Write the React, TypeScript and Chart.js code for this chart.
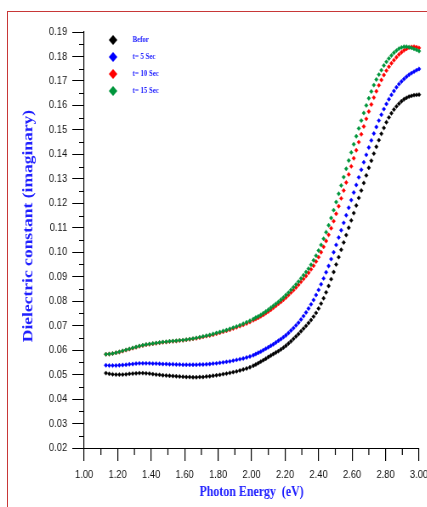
import React, { useEffect, useRef } from "react";
import { Chart, registerables } from "chart.js";

Chart.register(...registerables);

// Photon energy (eV) at which each point was read
const energy = [
  1.13, 1.15, 1.17, 1.19, 1.21, 1.23, 1.25, 1.27, 1.29, 1.31, 1.33, 1.35, 1.37, 1.39, 1.41, 1.43, 1.45, 1.47, 1.49, 1.51, 1.53, 1.55,
  1.57, 1.59, 1.61, 1.63, 1.65, 1.67, 1.69, 1.71, 1.73, 1.75, 1.77, 1.79, 1.81, 1.83, 1.85, 1.87, 1.89, 1.91, 1.93, 1.95, 1.97, 1.99,
  2.01, 2.025, 2.04, 2.055, 2.07, 2.085, 2.1, 2.115, 2.13, 2.145, 2.16, 2.175, 2.19, 2.205, 2.22, 2.235, 2.25, 2.265, 2.28, 2.295,
  2.31, 2.325, 2.34, 2.355, 2.37, 2.385, 2.4, 2.415, 2.43, 2.445, 2.46, 2.475, 2.49, 2.505, 2.52, 2.535, 2.55, 2.565, 2.58, 2.595,
  2.61, 2.625, 2.64, 2.655, 2.67, 2.685, 2.7, 2.715, 2.73, 2.745, 2.76, 2.775, 2.79, 2.805, 2.82, 2.835, 2.85, 2.865, 2.88, 2.895,
  2.91, 2.925, 2.94, 2.955, 2.97, 2.985, 3.0,
];

const befor = [
  0.0506, 0.0503, 0.0501, 0.05, 0.05, 0.05, 0.0501, 0.0503, 0.0504, 0.0505, 0.0506, 0.0506, 0.0505, 0.0504, 0.0502, 0.05, 0.0499,
  0.0497, 0.0496, 0.0495, 0.0494, 0.0493, 0.0492, 0.0491, 0.049, 0.049, 0.0489, 0.0489, 0.049, 0.049, 0.0492, 0.0493, 0.0495, 0.0497,
  0.0499, 0.0502, 0.0504, 0.0507, 0.051, 0.0513, 0.0517, 0.0521, 0.0525, 0.053,
  0.0536, 0.0541, 0.0547, 0.0553, 0.0559, 0.0565, 0.0572, 0.0578, 0.0584, 0.059, 0.0596, 0.0603, 0.061, 0.0618, 0.0627, 0.0636,
  0.0646, 0.0656, 0.0666, 0.0677, 0.0688, 0.0699, 0.0711, 0.0723, 0.0737, 0.0752, 0.077, 0.079, 0.0812, 0.0836, 0.0862, 0.089,
  0.0919, 0.095, 0.098, 0.101, 0.104, 0.107, 0.11, 0.113, 0.116, 0.1191, 0.1222, 0.1252, 0.1283, 0.1314, 0.1345, 0.1374, 0.1403,
  0.1431, 0.1458, 0.1484, 0.1508, 0.1531, 0.1551, 0.1568, 0.1583, 0.1596, 0.1607, 0.1617, 0.1625, 0.1631, 0.1636, 0.1639, 0.1642,
  0.1643, 0.1644,
];

const t5 = [
  0.0538, 0.0537, 0.0537, 0.0537, 0.0538, 0.0539, 0.054, 0.0542, 0.0543, 0.0545, 0.0546, 0.0546, 0.0546, 0.0546, 0.0545, 0.0545,
  0.0544, 0.0543, 0.0543, 0.0542, 0.0542, 0.0541, 0.0541, 0.054, 0.054, 0.054, 0.054, 0.054, 0.0541, 0.0541, 0.0542, 0.0543, 0.0545,
  0.0546, 0.0548, 0.055, 0.0552, 0.0554, 0.0557, 0.056, 0.0563, 0.0566, 0.057, 0.0574,
  0.0579, 0.0584, 0.0589, 0.0594, 0.06, 0.0606, 0.0612, 0.0618, 0.0624, 0.0631, 0.0638, 0.0645, 0.0653, 0.0661, 0.067, 0.068, 0.069,
  0.0701, 0.0712, 0.0725, 0.0739, 0.0754, 0.077, 0.0787, 0.0805, 0.0825, 0.0846, 0.0869, 0.0893, 0.0918, 0.0944, 0.0972, 0.1, 0.103,
  0.106, 0.109, 0.112, 0.1151, 0.1182, 0.1213, 0.1244, 0.1275, 0.1306, 0.1337, 0.1368, 0.1398, 0.1428, 0.1457, 0.1485, 0.1512,
  0.1538, 0.1562, 0.1585, 0.1606, 0.1625, 0.1643, 0.1659, 0.1674, 0.1687, 0.1698, 0.1708, 0.1717, 0.1725, 0.1732, 0.1738, 0.1744,
  0.1749,
];

const t10 = [
  0.0583, 0.0584, 0.0586, 0.0589, 0.0592, 0.0596, 0.06, 0.0604, 0.0608, 0.0612, 0.0616, 0.0619, 0.0622, 0.0624, 0.0626, 0.0628,
  0.063, 0.0632, 0.0633, 0.0635, 0.0636, 0.0637, 0.0639, 0.064, 0.0642, 0.0644, 0.0646, 0.0648, 0.0651, 0.0654, 0.0657, 0.066, 0.0663,
  0.0667, 0.0671, 0.0675, 0.0679, 0.0683, 0.0688, 0.0693, 0.0698, 0.0703, 0.0709, 0.0715,
  0.0722, 0.0727, 0.0732, 0.0738, 0.0744, 0.0751, 0.0758, 0.0765, 0.0773, 0.0781, 0.0789, 0.0797, 0.0806, 0.0815, 0.0825, 0.0835,
  0.0845, 0.0856, 0.0867, 0.0879, 0.0891, 0.0903, 0.0916, 0.093, 0.0945, 0.0962, 0.098, 0.1, 0.1022, 0.1046, 0.1071, 0.1098, 0.1127,
  0.1157, 0.1188, 0.122, 0.1252, 0.1285, 0.1318, 0.1351, 0.1384, 0.1417, 0.145, 0.1482, 0.1514, 0.1545, 0.1575, 0.1604, 0.1632,
  0.1658, 0.1682, 0.1704, 0.1724, 0.1742, 0.1758, 0.1772, 0.1785, 0.1797, 0.1808, 0.1817, 0.1825, 0.1831, 0.1836, 0.1839, 0.184,
  0.1838, 0.1835,
];

const t15 = [
  0.0583, 0.0584, 0.0586, 0.0589, 0.0593, 0.0597, 0.0601, 0.0605, 0.0609, 0.0613, 0.0617, 0.062, 0.0623, 0.0625, 0.0627, 0.0629,
  0.0631, 0.0633, 0.0634, 0.0636, 0.0637, 0.0638, 0.064, 0.0641, 0.0643, 0.0645, 0.0647, 0.065, 0.0653, 0.0656, 0.0659, 0.0662,
  0.0666, 0.067, 0.0674, 0.0678, 0.0682, 0.0687, 0.0692, 0.0697, 0.0702, 0.0708, 0.0714, 0.072,
  0.0727, 0.0733, 0.0738, 0.0744, 0.0751, 0.0758, 0.0765, 0.0773, 0.0781, 0.0789, 0.0797, 0.0806, 0.0815, 0.0825, 0.0835, 0.0846,
  0.0857, 0.0868, 0.088, 0.0893, 0.0906, 0.0919, 0.0933, 0.0949, 0.0967, 0.0986, 0.1007, 0.103, 0.1055, 0.1082, 0.111, 0.114, 0.1172,
  0.1205, 0.1239, 0.1273, 0.1307, 0.1341, 0.1375, 0.1408, 0.1441, 0.1474, 0.1506, 0.1538, 0.1569, 0.16, 0.1629, 0.1657, 0.1683,
  0.1706, 0.1726, 0.1744, 0.1763, 0.1778, 0.1792, 0.1804, 0.1815, 0.1824, 0.1832, 0.1837, 0.184, 0.184, 0.1838, 0.1835, 0.1831,
  0.1827, 0.1822,
];

const seriesLabels = ["Befor", "t= 5 Sec", "t= 10 Sec", "t= 15 Sec"];
const seriesValues = [befor, t5, t10, t15];
const seriesColors = ["#000000", "#0000ff", "#ff0000", "#00963c"];
const seriesOrder = [3, 2, 1, 0];

const xMin = 1.0;
const xMax = 3.0;
const xStep = 0.2;
const yMin = 0.02;
const yMax = 0.19;
const yStep = 0.01;
const xTitle = "Photon Energy  (eV)";
const yTitle = "Dielectric constant (imaginary)";

const TITLE_BLUE = "#2020ff";
const SX = 0.85; // horizontal squeeze of the original picture
const CW = 520;
const CH = 507;
const AREA_LEFT = 99;
const AREA_RIGHT = 493;
const AREA_TOP = 32;
const AREA_BOTTOM = 448;

const decorPlugin = {
  id: "decor",
  afterDraw(chart: any) {
    const ctx = chart.ctx as CanvasRenderingContext2D;
    const xs = chart.scales.x;
    const ys = chart.scales.y;
    ctx.save();
    // minor ticks
    ctx.strokeStyle = "#000";
    ctx.lineWidth = 1.2;
    const xt = xs.ticks.map((t: any) => t.value);
    for (let i = 0; i < xt.length - 1; i++) {
      const px = xs.getPixelForValue((xt[i] + xt[i + 1]) / 2);
      ctx.beginPath();
      ctx.moveTo(px, xs.top);
      ctx.lineTo(px, xs.top + 7);
      ctx.stroke();
    }
    ctx.lineWidth = 1;
    const yt = ys.ticks.map((t: any) => t.value);
    for (let i = 0; i < yt.length - 1; i++) {
      const py = Math.round(ys.getPixelForValue((yt[i] + yt[i + 1]) / 2)) + 0.5;
      ctx.beginPath();
      ctx.moveTo(ys.right, py);
      ctx.lineTo(ys.right - 6, py);
      ctx.stroke();
    }

    // legend
    chart.data.datasets.forEach((ds: any, i: number) => {
      const cx = 133;
      const cy = 40 + 17 * i;
      const r = 5;
      ctx.fillStyle = ds.backgroundColor;
      ctx.beginPath();
      ctx.moveTo(cx - r, cy);
      ctx.lineTo(cx, cy - r);
      ctx.lineTo(cx + r, cy);
      ctx.lineTo(cx, cy + r);
      ctx.closePath();
      ctx.fill();
      ctx.fillStyle = TITLE_BLUE;
      ctx.font = "bold 8px 'Liberation Serif', 'Times New Roman', serif";
      ctx.textAlign = "left";
      ctx.textBaseline = "middle";
      ctx.fillText(ds.label, 156, cy);
    });

    // axis titles
    ctx.fillStyle = TITLE_BLUE;
    ctx.font = "bold 14px 'Liberation Serif', 'Times New Roman', serif";
    ctx.textAlign = "center";
    ctx.textBaseline = "alphabetic";
    ctx.fillText(xTitle, (xs.left + xs.right) / 2, 496);

    ctx.save();
    ctx.translate(38, 226);
    ctx.rotate(-Math.PI / 2);
    ctx.font = "bold 17.5px 'Liberation Serif', 'Times New Roman', serif";
    ctx.textAlign = "center";
    ctx.textBaseline = "alphabetic";
    ctx.fillText(yTitle, 0, 0);
    ctx.restore();

    ctx.restore();
  },
};

export default function App() {
  const canvasRef = useRef<HTMLCanvasElement | null>(null);

  useEffect(() => {
    if (!canvasRef.current) return;
    const tickFont = { family: "'Liberation Sans', Arial, sans-serif", size: 11 };
    const chart = new Chart(canvasRef.current, {
      type: "scatter",
      data: {
        datasets: seriesLabels.map((label, i) => ({
          label,
          data: energy.map((e, j) => ({ x: e, y: seriesValues[i][j] })),
          backgroundColor: seriesColors[i],
          borderColor: seriesColors[i],
          pointStyle: "rectRot",
          pointRadius: 2.2,
          pointBorderWidth: 0.4,
          showLine: false,
          order: seriesOrder[i],
          clip: 10,
        })),
      },
      options: {
        animation: false,
        responsive: false,
        devicePixelRatio: 1,
        events: [],
        layout: { padding: { top: AREA_TOP, right: CW - AREA_RIGHT, bottom: 0, left: 0 } },
        plugins: {
          legend: { display: false },
          tooltip: { enabled: false },
          title: { display: false },
        },
        scales: {
          x: {
            type: "linear",
            position: "bottom",
            min: xMin,
            max: xMax,
            afterFit: (s: any) => {
              s.height = CH - AREA_BOTTOM;
            },
            ticks: {
              stepSize: xStep,
              autoSkip: false,
              maxRotation: 0,
              padding: 7,
              color: "#111",
              font: tickFont,
              callback: (v: any) => Number(v).toFixed(2),
            },
            grid: {
              display: true,
              drawOnChartArea: false,
              drawTicks: true,
              tickLength: 13,
              color: "#000",
              lineWidth: 1.2,
            },
            border: { display: true, color: "#000", width: 1 },
          },
          y: {
            type: "linear",
            position: "left",
            min: yMin,
            max: yMax,
            afterFit: (s: any) => {
              s.width = AREA_LEFT;
            },
            ticks: {
              stepSize: yStep,
              autoSkip: false,
              padding: 6,
              color: "#111",
              font: tickFont,
              callback: (v: any) => Number(v).toFixed(2),
            },
            grid: {
              display: true,
              drawOnChartArea: false,
              drawTicks: true,
              tickLength: 14,
              color: "#000",
              lineWidth: 1,
            },
            border: { display: true, color: "#000", width: 1.2 },
          },
        },
      } as any,
      plugins: [decorPlugin],
    });
    return () => chart.destroy();
  }, []);

  return (
    <div
      style={{
        position: "fixed",
        left: 0,
        top: 0,
        width: 427,
        height: 507,
        overflow: "hidden",
        background: "#fff",
      }}
    >
      <div
        style={{
          position: "absolute",
          left: 7,
          top: 11,
          width: 600,
          height: 700,
          borderLeft: "1.5px solid rgb(200,55,55)",
          borderTop: "1.5px solid rgb(200,55,55)",
        }}
      />
      <div
        style={{
          position: "absolute",
          left: 0,
          top: 0,
          width: CW,
          height: CH,
          transform: `scaleX(${SX})`,
          transformOrigin: "0 0",
        }}
      >
        <canvas ref={canvasRef} width={CW} height={CH} style={{ display: "block" }} />
      </div>
    </div>
  );
}
